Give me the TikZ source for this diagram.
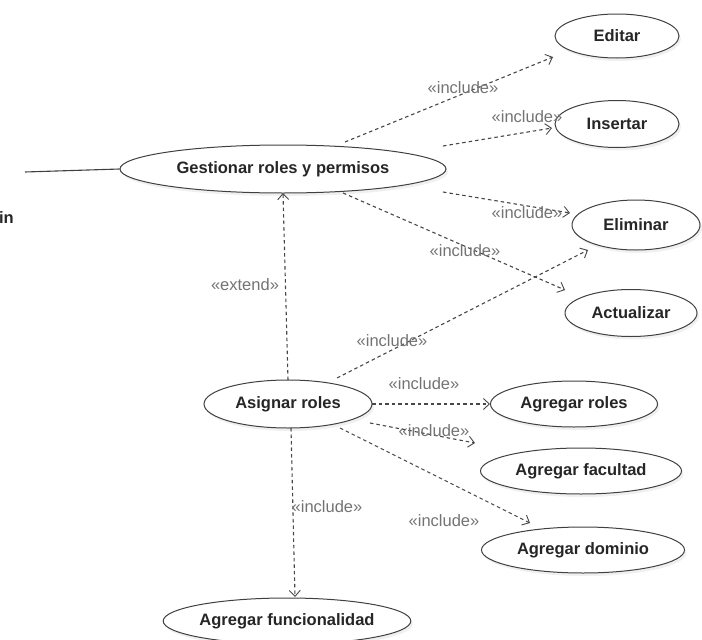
\documentclass[tikz,border=0pt]{standalone}
\usepackage{fontspec}
\setmainfont{Liberation Sans}
\usetikzlibrary{shapes.geometric,arrows.meta,shadows,calc}
\begin{document}
\begin{tikzpicture}[x=1pt,y=-1pt,
  uc/.style={ellipse, draw=black!75, fill=white, line width=1pt, inner sep=0pt,
    font=\bfseries\fontsize{16.5}{19}\selectfont, text=black!85,
    drop shadow={opacity=0.12, shadow xshift=2pt, shadow yshift=-3pt}},
  dep/.style={draw=black!72, line width=1.1pt, dash pattern=on 3.5pt off 3pt,
    -{Straight Barb[length=6pt,width=11pt,line width=0.9pt]}},
  lbl/.style={text=black!55, font=\fontsize{16.5}{19}\selectfont, inner sep=0pt}]
\useasboundingbox (0,0) rectangle (702,640);

% use cases
\node[uc, minimum width=124, minimum height=44] (editar) at (617,36) {Editar};
\node[uc, minimum width=124, minimum height=47] (insertar) at (617,124) {Insertar};
\node[uc, minimum width=326, minimum height=48] (gest) at (283,169) {Gestionar roles y permisos};
\node[uc, minimum width=128, minimum height=50] (eliminar) at (636,225) {Eliminar};
\node[uc, minimum width=132, minimum height=47] (actualizar) at (631,313) {Actualizar};
\node[uc, minimum width=168, minimum height=48] (asignar) at (288,404) {Asignar roles};
\node[uc, minimum width=167, minimum height=46] (agroles) at (574,404) {Agregar roles};
\node[uc, minimum width=201, minimum height=46] (agfac) at (581,471) {Agregar facultad};
\node[uc, minimum width=203, minimum height=46] (agdom) at (583,550) {Agregar dominio};
\node[uc, minimum width=243, minimum height=46] (agfun) at (287,621) {Agregar funcionalidad};

% actor association (the actor figure lies to the left, outside the frame)
\node[font=\bfseries\fontsize{16.5}{19}\selectfont, anchor=east, inner sep=0pt, text=black!85] (actor) at (14,218) {Admin};
\coordinate (actorend) at (25,172);
\draw[black!75, line width=1.1pt] (actorend) -- (gest.west);

% dependencies of Gestionar roles y permisos
\draw[dep] ($(gest.center)+(62,-27)$) -- ($(editar.center)+(-64,21)$);
\node[lbl] (l1) at (463,88) {«include»};
\draw[dep] ($(gest.center)+(160,-23)$) -- ($(insertar.center)+(-65,4)$);
\node[lbl] (l2) at (527,117) {«include»};
\draw[dep] ($(gest.center)+(160,23)$) -- ($(eliminar.center)+(-66,-12)$);
\node[lbl] (l3) at (527,213) {«include»};
\draw[dep] ($(gest.center)+(60,24)$) -- ($(actualizar.center)+(-66,-23)$);
\node[lbl] (l4) at (465,251) {«include»};

% dependencies of Asignar roles
\draw[dep] ($(asignar.center)+(0,-24)$) -- ($(gest.center)+(0,24)$);
\node[lbl] (l5) at (245,285) {«extend»};
\draw[dep] ($(asignar.center)+(49,-26)$) -- ($(eliminar.center)+(-48,25)$);
\node[lbl] (l6) at (392,341) {«include»};
\draw[dep] ($(asignar.center)+(84,0)$) -- ($(agroles.center)+(-84,0)$);
\node[lbl] (l7) at (424,384) {«include»};
\draw[dep] ($(asignar.center)+(82,19)$) -- ($(agfac.center)+(-106,-28)$);
\node[lbl] (l8) at (434,431) {«include»};
\draw[dep] ($(asignar.center)+(52,24)$) -- ($(agdom.center)+(-53,-27)$);
\node[lbl] (l9) at (444,521) {«include»};
\draw[dep] ($(asignar.center)+(3,24)$) -- ($(agfun.center)+(8,-24)$);
\node[lbl] (l10) at (327,507) {«include»};
\end{tikzpicture}
\end{document}
